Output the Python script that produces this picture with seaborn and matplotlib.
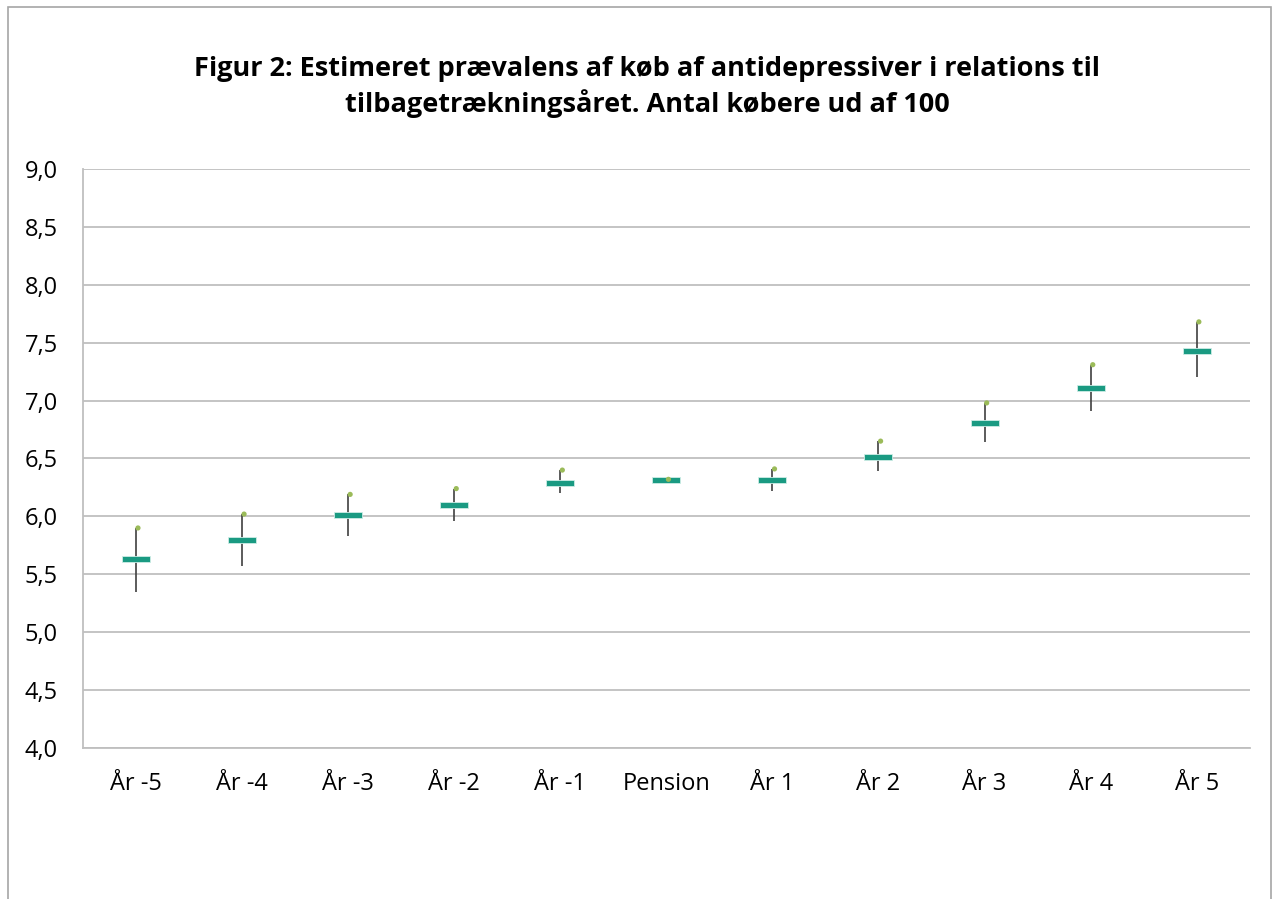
import numpy as np
import pandas as pd
import matplotlib
matplotlib.use("Agg")
import matplotlib.pyplot as plt
import seaborn as sns

# data
kategorier = ['År -5', 'År -4', 'År -3', 'År -2', 'År -1', 'Pension',
              'År 1', 'År 2', 'År 3', 'År 4', 'År 5']
estimat = [5.63, 5.80, 6.01, 6.10, 6.29, 6.31, 6.31, 6.51, 6.81, 7.11, 7.43]
lav = [5.35, 5.57, 5.83, 5.96, 6.20, 6.30, 6.22, 6.39, 6.64, 6.91, 7.20]
hoej = [5.90, 6.02, 6.19, 6.24, 6.40, 6.32, 6.41, 6.65, 6.98, 7.31, 7.68]

df = pd.DataFrame({'kat': kategorier, 'est': estimat, 'lav': lav, 'hoej': hoej})
df['pos'] = np.arange(len(df))

sns.set_style("white")
plt.rcParams['font.family'] = ['Open Sans', 'DejaVu Sans']

fig = plt.figure(figsize=(12.74, 8.99), dpi=100)
ax = fig.add_axes([0.065, 0.168, 0.916, 0.644])

# ramme rundt om diagrammet
fig.patches.append(plt.Rectangle((0.006, -0.02), 0.992, 1.012, transform=fig.transFigure,
                                 fill=False, edgecolor='#A6A6A6', linewidth=1.2))

# lodrette streger lav-hoej
ax.vlines(df['pos'], df['lav'], df['hoej'], color='#404040', linewidth=1.2, zorder=3)

# estimat som vandret bjaelke
bar = [(-1, -0.25), (1, -0.25), (1, 0.25), (-1, 0.25), (-1, -0.25)]
sns.scatterplot(data=df, x='pos', y='est', marker=bar, s=20 ** 2, color='#1A9A82',
                edgecolor='#CDEDE6', linewidth=0.6, zorder=4, ax=ax, legend=False)

# hoej-vaerdi som lille groen prik
sns.scatterplot(x=df['pos'] + 0.02, y=df['hoej'], marker='o', s=14, color='#9BBB59',
                edgecolor='none', zorder=5, ax=ax, legend=False)

ax.set_xlim(-0.5, len(df) - 0.5)
ax.set_ylim(4.0, 9.0)
ax.set_yticks(np.arange(4.0, 9.01, 0.5))
ax.set_yticklabels([f"{v:.1f}".replace('.', ',') for v in np.arange(4.0, 9.01, 0.5)])
ax.set_xticks(df['pos'])
ax.set_xticklabels(kategorier)
ax.tick_params(axis='both', length=0, labelsize=17, colors='#000000')
ax.tick_params(axis='x', pad=17)
ax.tick_params(axis='y', pad=18)
ax.set_xlabel('')
ax.set_ylabel('')

ax.yaxis.grid(True, color='#BFBFBF', linewidth=1.3)
ax.set_axisbelow(True)
for side in ['top', 'right']:
    ax.spines[side].set_visible(False)
for side in ['left', 'bottom']:
    ax.spines[side].set_color('#BFBFBF')
    ax.spines[side].set_linewidth(1.3)

fig.text(0.508, 0.903, 'Figur 2: Estimeret prævalens af køb af antidepressiver i relations til\n'
         'tilbagetrækningsåret. Antal købere ud af 100',
         ha='center', va='center', fontsize=19.5, fontweight='bold', linespacing=1.3,
         color='#000000')

fig.savefig('out.png', dpi=100, facecolor='white')
